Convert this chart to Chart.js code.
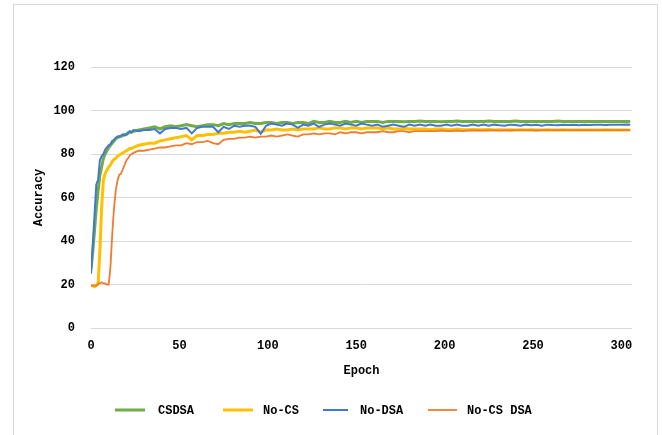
<!DOCTYPE html>
<html>
<head>
<meta charset="utf-8">
<script src="https://cdn.jsdelivr.net/npm/chart.js@4/dist/chart.umd.min.js"></script>
<style>
html,body{margin:0;padding:0;background:#fff;}
#wrap{position:relative;width:662px;height:435px;}
</style>
</head>
<body>
<div id="wrap"><canvas id="c" width="662" height="435"></canvas></div>
<script>
const epochs = [0,1,2,3,4,5,6,7,8,9,10,11,12,13,14,15,16,17,18,19,20,21,22,23,24,
27,30,33,36,39,42,45,48,51,54,57,60,63,66,69,72,75,78,81,84,87,90,93,96,99,
102,105,108,111,114,117,120,123,126,129,132,135,138,141,144,147,150,153,156,159,
162,165,168,171,174,177,180,183,186,189,192,195,198,201,204,207,210,213,216,219,
222,225,228,231,234,237,240,243,246,249,252,255,258,261,264,267,270,273,276,279,
282,285,288,291,294,297,300,303,305];

const csdsa = [27,35,45,55,63,70,74,78,80,81.5,83,84,85,86,87,87.5,88,88,88.5,89,89,89.5,90,90,90.5,
91,91.5,92,92.5,91.5,92.5,93,92.5,93,93.5,93,92.5,93,93.5,93.5,93,94,93.5,94,94,94,94.5,94,94,94.5,
94.5,94,94.5,94.5,94,94.5,94.5,94,95,94.5,94.5,95,94.5,94.5,95,94.5,95,94.5,95,95,
95,94.5,95,95,95,94.8,95,95,95.2,95,95,95,94.8,95,95,95.2,95,95,95,95,
95,95.2,95,95,95,95,95.2,95,95,95,95,95,95,95,95.2,95,95,95,95,95,
95,95,95,95,95,95,95,95,95];

const noCS = [19.5,19.5,19,19.5,20,35,55,68,71,72.5,74,75,76.5,77.5,78,79,79.5,80,80.5,81,81.5,82,82.5,82.5,83,
84,84.5,85,85,86,86.5,87,87.5,88,88.5,86.5,88.5,88.5,89,89,89.5,89.5,90,90,90.5,90,90.5,91,90,91,
91,91.5,91,91,91.5,91,91.5,91.5,91.5,92,91.5,91.5,92,92,91.5,92,92,91.5,92,92,
92,91.5,92,91.5,91.5,91.8,91.5,91.5,91.5,91.5,91.2,91.5,91.5,91.3,91.2,91.5,91.3,91.2,91.3,91.2,
91.2,91.3,91,91.2,91,91.2,91,91.1,91,91.2,91,91,91.1,91,91,91.1,91,91,91,91,
91,91,91,91.1,91,91,91,91,91];

const noDSA = [25,38,52,66,68,77,79,80,82,83,84,84.5,86,86.5,87.5,88,88,88.5,89,88.5,89,90,90.5,90,91,
90.5,91,91,91.5,89.5,91.5,92,92,91.5,92,89.5,92,92.5,92.5,92.5,90,92.5,91.5,93,92.5,93,93,92.5,89.3,93,
94,93.5,93,94,93.5,92,93.5,93,94,92.5,93.5,94,93.5,93,94,93.5,93,94,93.5,93,
93.5,92.5,93,93.5,93,92.5,93.5,93,93.5,93,93.5,93,93,93.5,93,93.5,93,93,93.5,93,
93.5,93,93.5,93.2,93,93.5,93.3,93,93.5,93.2,93.4,93,93.5,93.3,93.2,93.5,93.3,93.4,93.2,93.5,
93.3,93.5,93.4,93.3,93.5,93.4,93.5,93.6,93.5];

const noCSDSA = [19.5,19.5,19.5,19.5,20.5,20.5,21,20.5,20.5,20,20,28,43,55,63,68,70.5,71,73,75,77,78,79.5,80,80.5,
81.5,81.5,82,82.5,83,83,83.5,84,84,85,84.5,85.5,85.5,86,85,84.5,86.5,87,87,87.5,87.5,88,87.5,88,88,
88.5,88,88.5,89,88.5,88,89,89,89.5,89,89.5,89.5,89,90,89.5,90,90,89.5,90,90,
90,90.5,90,90,90.5,90.5,90,90.5,90.5,90.5,90.5,90.5,90.8,90.5,90.5,90.8,90.5,90.8,90.8,90.8,
90.8,90.8,91,90.8,91,90.8,91,91,91,91,90.8,91,91,91,91,91,91,91,91,91,
91,91,91,91,91,91,91,91,91];

const seriesNames = ['CSDSA','No-CS','No-DSA','No-CS DSA'];
const yTicks = [0,20,40,60,80,100,120];
const xTicks = [0,50,100,150,200,250,300];

const colors = ['#70AD47','#FFC000','#4477D0','#ED7D31'];
const widths = [3,3,2,1.8];
const allValues = [csdsa, noCS, noDSA, noCSDSA];

const FONT = '"Liberation Mono", "DejaVu Sans Mono", monospace';

function pts(vals){ return epochs.map((e,i)=>({x:e,y:vals[i]})); }

const datasets = allValues.map((v,i)=>({
  label: seriesNames[i],
  data: pts(v),
  borderColor: colors[i],
  backgroundColor: colors[i],
  borderWidth: widths[i],
  pointRadius: 0,
  tension: 0,
  fill: false,
  order: 4 - i
}));

const frame = {
  id:'frame',
  beforeDraw(chart){
    const ctx = chart.ctx;
    ctx.save();
    ctx.fillStyle = '#fff';
    ctx.fillRect(0,0,chart.width,chart.height);
    ctx.strokeStyle = '#d9d9d9';
    ctx.lineWidth = 1;
    ctx.strokeRect(13.5,4.5,644,440);
    ctx.restore();
  }
};

const legendPos = [
  {x1:115,x2:145,tx:158},
  {x1:223,x2:253,tx:263},
  {x1:323,x2:348,tx:360},
  {x1:428,x2:457,tx:467}
];
const customLegend = {
  id:'customLegend',
  afterDraw(chart){
    const ctx = chart.ctx;
    const y = 410;
    ctx.save();
    ctx.font = 'bold 12px ' + FONT;
    ctx.textBaseline = 'middle';
    ctx.textAlign = 'left';
    seriesNames.forEach((n,i)=>{
      const p = legendPos[i];
      ctx.strokeStyle = colors[i];
      ctx.lineWidth = widths[i];
      ctx.beginPath();
      ctx.moveTo(p.x1,y); ctx.lineTo(p.x2,y);
      ctx.stroke();
      ctx.fillStyle = '#000';
      ctx.fillText(n, p.tx, y+1);
    });
    ctx.restore();
  }
};

new Chart(document.getElementById('c'), {
  type:'line',
  data:{datasets},
  plugins:[frame, customLegend],
  options:{
    responsive:false,
    animation:false,
    devicePixelRatio:1,
    layout:{padding:{left:0,right:30,top:67,bottom:52}},
    plugins:{legend:{display:false},tooltip:{enabled:false}},
    scales:{
      x:{
        type:'linear',
        min:0,max:306,
        afterBuildTicks(scale){ scale.ticks = xTicks.map(v=>({value:v})); },
        afterFit(scale){ scale.height = 55; },
        grid:{display:false,drawTicks:false},
        border:{display:false},
        ticks:{
          color:'#000',
          font:{family:FONT,size:12,weight:'bold'},
          padding:11,
          maxRotation:0,
          autoSkip:false
        },
        title:{display:true,text:'Epoch',color:'#000',
          font:{family:FONT,size:12,weight:'bold'},padding:{top:0,bottom:5}}
      },
      y:{
        min:0,max:120,
        afterBuildTicks(scale){ scale.ticks = yTicks.map(v=>({value:v})); },
        afterFit(scale){ scale.width = 91; },
        grid:{color:'#d9d9d9',lineWidth:1,drawTicks:false},
        border:{display:false},
        ticks:{
          color:'#000',
          font:{family:FONT,size:12,weight:'bold'},
          padding:16
        },
        title:{display:true,text:'Accuracy',color:'#000',
          font:{family:FONT,size:12,weight:'bold'},padding:{top:32,bottom:0}}
      }
    }
  }
});
</script>
</body>
</html>
